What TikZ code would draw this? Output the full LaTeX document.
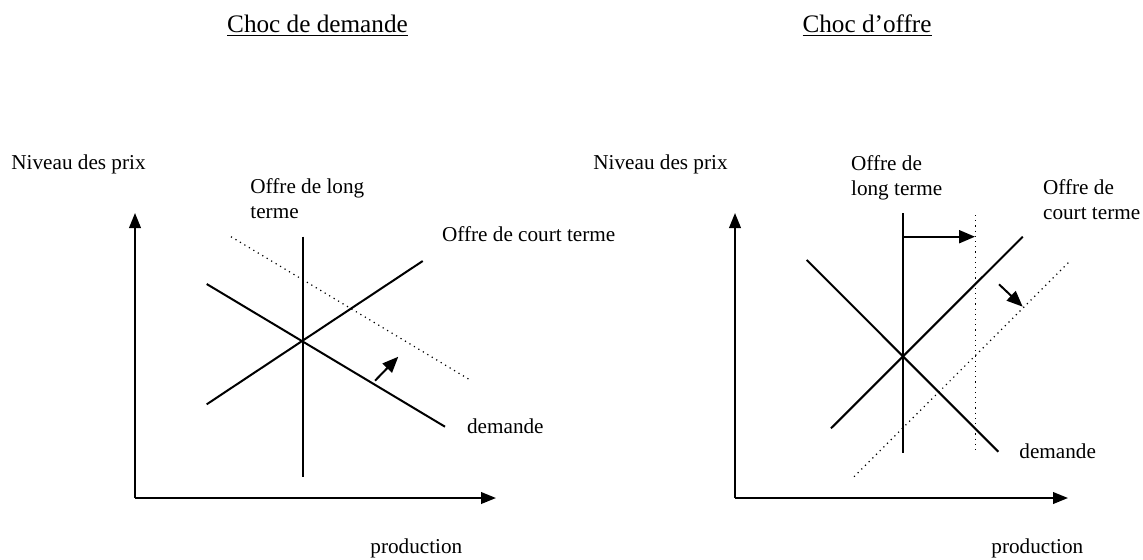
\documentclass[tikz,border=0pt]{standalone}
\usepackage{fontspec}
\setmainfont{Liberation Serif}
\usetikzlibrary{arrows.meta}
\tikzset{
  curve/.style={line width=1pt},
  shifted/.style={line width=0.6pt, dotted},
  axis/.style={line width=1pt, -{Triangle[length=7.5pt,width=5.8pt]}},
  shiftarrow/.style={line width=1pt, -{Triangle[length=8pt,width=6.5pt]}},
  lbl/.style={inner sep=0pt, font=\fontsize{10.6}{12.5}\selectfont},
  ttl/.style={inner sep=0pt, font=\fontsize{12.6}{15}\selectfont},
}
\begin{document}
\begin{tikzpicture}[x=0.5pt,y=-0.5pt]
\useasboundingbox (0,0) rectangle (1143,559);
% titles
\node[ttl, anchor=base] (t1) at (317.5,32) {\underline{Choc de demande}};
\node[ttl, anchor=base] (t2) at (867,32) {\underline{Choc d’offre}};

% ---------- left diagram ----------
\coordinate (O1) at (135,498);
\coordinate (Y1) at (135,213);
\coordinate (X1) at (496,498);
\draw[axis] (O1) -- (Y1);
\draw[axis] (O1) -- (X1);
\coordinate (LTa) at (302.7,236.7);
\coordinate (LTb) at (302.7,476.7);
\draw[curve] (LTa) -- (LTb);
\coordinate (Sa) at (206.7,404.3);
\coordinate (Sb) at (422.7,261);
\draw[curve] (Sa) -- (Sb);
\coordinate (Da) at (206.7,284);
\coordinate (Db) at (445,426.7);
\draw[curve] (Da) -- (Db);
\coordinate (D2a) at (231,236.7);
\coordinate (D2b) at (469,379.3);
\draw[shifted] (D2a) -- (D2b);
\coordinate (A1a) at (375,380.7);
\coordinate (A1b) at (398.3,356.7);
\draw[shiftarrow] (A1a) -- (A1b);

\node[lbl, anchor=base west] (np1) at (11,169) {Niveau des prix};
\node[lbl, anchor=north west, align=left] (olt1) at (250,178.5) {Offre de long\\terme};
\node[lbl, anchor=base west] (oct1) at (441.7,241.7) {Offre de court terme};
\node[lbl, anchor=base west] (dem1) at (466.7,433) {demande};
\node[lbl, anchor=base west] (prod1) at (370,553) {production};

% ---------- right diagram ----------
\coordinate (O2) at (735,498);
\coordinate (Y2) at (735,213);
\coordinate (X2) at (1068,498);
\draw[axis] (O2) -- (Y2);
\draw[axis] (O2) -- (X2);
\coordinate (LT2a) at (903.3,213.3);
\coordinate (LT2b) at (903.3,452.7);
\draw[curve] (LT2a) -- (LT2b);
\coordinate (LT3a) at (975.3,215);
\coordinate (LT3b) at (975.3,453.3);
\draw[shifted] (LT3a) -- (LT3b);
\coordinate (A2a) at (903.3,236.7);
\coordinate (A2b) at (975,236.7);
\draw[shiftarrow] (A2a) -- (A2b);
\coordinate (S2a) at (831,428.3);
\coordinate (S2b) at (1022.7,236.7);
\draw[curve] (S2a) -- (S2b);
\coordinate (D3a) at (806.7,260);
\coordinate (D3b) at (998.3,451.7);
\draw[curve] (D3a) -- (D3b);
\coordinate (S3a) at (854,476.7);
\coordinate (S3b) at (1071,260);
\draw[shifted] (S3a) -- (S3b);
\coordinate (A3a) at (999,284.3);
\coordinate (A3b) at (1022.7,306.7);
\draw[shiftarrow] (A3a) -- (A3b);

\node[lbl, anchor=base west] (np2) at (593,169) {Niveau des prix};
\node[lbl, anchor=north west, align=left] (olt2) at (850.7,154.7) {Offre de\\long terme};
\node[lbl, anchor=north west, align=left] (oct2) at (1042.7,178.7) {Offre de\\court terme};
\node[lbl, anchor=base west] (dem2) at (1019,458) {demande};
\node[lbl, anchor=base west] (prod2) at (991,553) {production};
\end{tikzpicture}
\end{document}
